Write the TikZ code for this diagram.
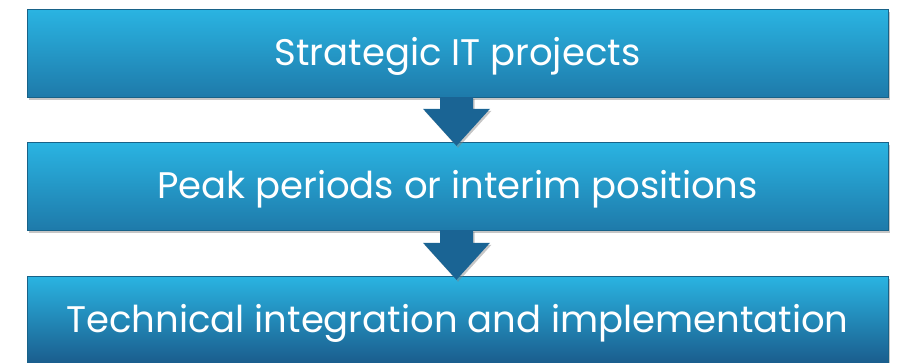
\documentclass[tikz,border=0pt]{standalone}
\usepackage{fontspec}
\setmainfont{Poppins}
\usetikzlibrary{shadows,calc}

\definecolor{boxtop}{RGB}{42,180,226}
\definecolor{boxbot}{RGB}{30,122,170}
\definecolor{boxbotdark}{RGB}{26,92,140}
\definecolor{arrowblue}{RGB}{26,100,148}

\tikzset{
    stagebox/.style={rectangle, minimum width=861pt, minimum height=88pt, inner sep=0pt,
        top color=boxtop, bottom color=boxbot, draw=boxbot!80!black, line width=0.4pt,
        drop shadow={shadow xshift=1.5pt, shadow yshift=-2.5pt, opacity=0.45},
        text=white, text height=35pt, text depth=10pt, font=\fontsize{37}{44}\selectfont},
    downarrow/.style={fill=arrowblue, drop shadow={shadow xshift=1.5pt, shadow yshift=-2pt, opacity=0.45}}
}

\begin{document}
\begin{tikzpicture}[x=1pt,y=1pt]
        \useasboundingbox (0,0) rectangle (897,-362);
        \clip (0,0) rectangle (897,-362);

        % Boxes
        \node[stagebox] (projects) at (457.5,-53) {Strategic IT projects};
        \node[stagebox] (peak) at (457.5,-186) {Peak periods or interim positions};
        \node[stagebox, bottom color=boxbotdark] (integration) at (457.5,-320) {Technical integration and implementation};

        % Arrows
        \foreach \a/\b in {projects/peak, peak/integration} {
            \coordinate (tip) at ($(\b.north)+(-1,-4)$);
            \fill[downarrow] ($(\a.south)+(-17.5,0)$) -- ($(tip)+(-16.5,37)$) -- ($(tip)+(-33.5,37)$)
                -- (tip) -- ($(tip)+(33.5,37)$) -- ($(tip)+(16.5,37)$) -- ($(\a.south)+(15.5,0)$) -- cycle;
        }
    \end{tikzpicture}
\end{document}
